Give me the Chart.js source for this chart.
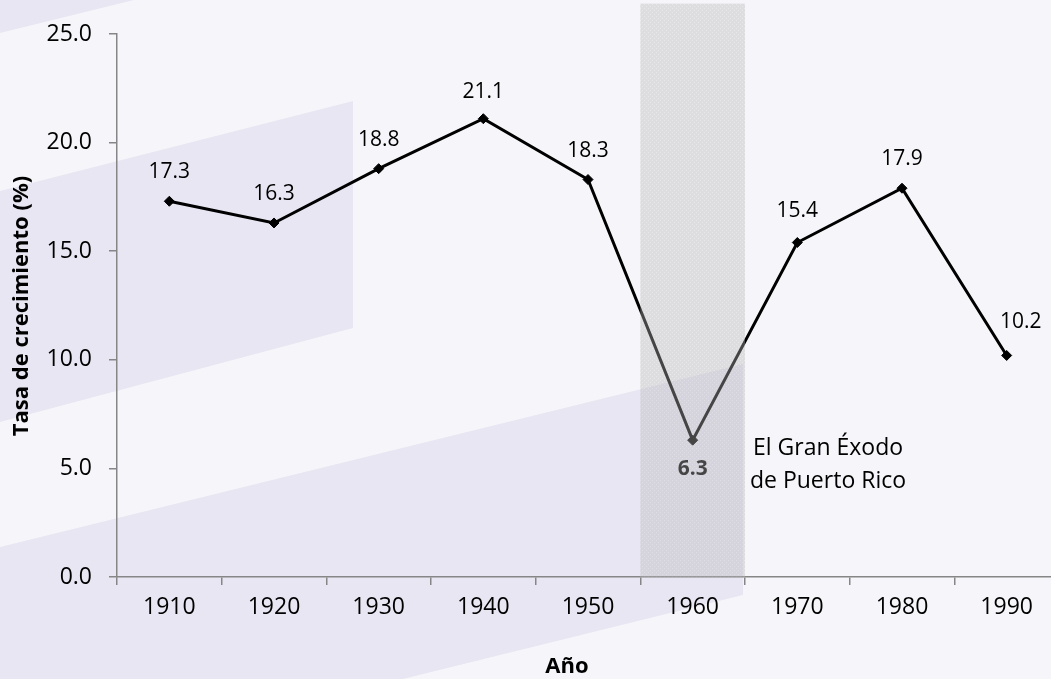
<!DOCTYPE html>
<html><head><meta charset="utf-8">
<script src="https://cdn.jsdelivr.net/npm/chart.js@4/dist/chart.umd.min.js"></script>
<style>
html,body{margin:0;padding:0;overflow:hidden;background:#f6f6fa;width:1051px;height:679px}
#c{position:absolute;left:0;top:0}
</style></head><body>
<canvas id="c" width="1065" height="679"></canvas>
<script>
// ---- data ----
const years = ['1910','1920','1930','1940','1950','1960','1970','1980','1990'];
const growthRate = [17.3, 16.3, 18.8, 21.1, 18.3, 6.3, 15.4, 17.9, 10.2];
const yTickValues = [0, 5, 10, 15, 20, 25];
const exodusYear = '1960';
const exodusTopValue = 26.4;
const exodusText = ['El Gran Éxodo', 'de Puerto Rico'];
const yTitle = 'Tasa de crecimiento (%)';
const xTitle = 'Año';

const FONT = '"Open Sans", "Liberation Sans", sans-serif';

const bgPlugin = {
  id: 'bg',
  beforeDraw(chart) {
    const ctx = chart.ctx, W = chart.width, H = chart.height;
    ctx.save();
    ctx.fillStyle = '#f6f6fa';
    ctx.fillRect(0, 0, W, H);
    ctx.fillStyle = '#e8e6f2';
    const polys = [
      [[0,0],[134,0],[0,33]],
      [[0,191],[353,101],[353,328],[0,422]],
      [[0,547],[743,364],[743,595],[403,679],[0,679]]
    ];
    polys.forEach(p => {
      ctx.beginPath();
      p.forEach((q,i) => i ? ctx.lineTo(q[0],q[1]) : ctx.moveTo(q[0],q[1]));
      ctx.closePath(); ctx.fill();
    });
    ctx.restore();
  }
};

const labelPlugin = {
  id: 'valueLabels',
  afterDatasetsDraw(chart, args, opts) {
    const meta = chart.getDatasetMeta(0);
    const ctx = chart.ctx;
    ctx.save();
    ctx.textAlign = 'center';
    ctx.textBaseline = 'middle';
    meta.data.forEach((pt, i) => {
      const o = opts.offsets[i];
      ctx.font = (opts.bold.includes(i) ? 'bold ' : '') + '21px ' + FONT;
      ctx.fillStyle = '#000';
      ctx.fillText(growthRate[i].toFixed(1), pt.x + o[0], pt.y + o[1]);
    });
    ctx.restore();
  }
};

function makePattern(ctx) {
  const c = document.createElement('canvas');
  c.width = 4; c.height = 4;
  const p = c.getContext('2d');
  p.fillStyle = 'rgba(182,182,182,0.38)';
  p.fillRect(0, 0, 4, 4);
  p.clearRect(0, 0, 1, 1); p.clearRect(2, 2, 1, 1);
  p.fillStyle = 'rgba(205,205,205,0.34)';
  p.fillRect(0, 0, 1, 1); p.fillRect(2, 2, 1, 1);
  return ctx.createPattern(c, 'repeat');
}

const bandPlugin = {
  id: 'exodusBand',
  afterDraw(chart) {
    const ctx = chart.ctx, xs = chart.scales.x, ys = chart.scales.y;
    const idx = years.indexOf(exodusYear);
    const cx = xs.getPixelForValue(idx);
    const half = (xs.getPixelForValue(1) - xs.getPixelForValue(0)) / 2;
    const top = ys.getPixelForValue(exodusTopValue);
    const bottom = ys.getPixelForValue(0);
    ctx.save();
    ctx.fillStyle = makePattern(ctx);
    ctx.fillRect(cx - half, top, half * 2, bottom - top);
    // annotation text
    ctx.fillStyle = '#000';
    ctx.font = '23px ' + FONT;
    ctx.textAlign = 'center';
    ctx.textBaseline = 'middle';
    const tx = cx + half + 83;
    const ty = ys.getPixelForValue(growthRate[idx]);
    ctx.fillText(exodusText[0], tx, ty + 8);
    ctx.fillText(exodusText[1], tx, ty + 41);
    // axis titles
    ctx.font = 'bold 22px ' + FONT;
    ctx.fillText(xTitle, 567, 667);
    ctx.translate(22, 306);
    ctx.rotate(-Math.PI / 2);
    ctx.fillText(yTitle, 0, 0);
    ctx.restore();
  }
};

new Chart(document.getElementById('c'), {
  type: 'line',
  data: {
    labels: years,
    datasets: [{
      data: growthRate,
      borderColor: '#000',
      backgroundColor: '#000',
      borderWidth: 3,
      pointStyle: 'rectRot',
      pointRadius: 5,
      pointBorderWidth: 1,
      tension: 0,
      fill: false
    }]
  },
  options: {
    responsive: false,
    animation: false,
    layout: { padding: { top: 34, left: 0, right: 0, bottom: 0 } },
    plugins: {
      legend: { display: false },
      tooltip: { enabled: false },
      valueLabels: {
        offsets: [[0,-29],[0,-29],[0,-29],[0,-27],[0,-29],[0,29],[0,-31],[0,-29],[14,-33]],
        bold: [5]
      }
    },
    scales: {
      x: {
        type: 'category',
        offset: true,
        afterFit: s => { s.height = 102; },
        grid: { offset: true, drawOnChartArea: false, drawTicks: true, tickLength: 8, color: '#868686', lineWidth: 1.5 },
        border: { color: '#868686', width: 1.5 },
        ticks: { color: '#000', font: { family: FONT, size: 23 }, padding: 9, maxRotation: 0 }
      },
      y: {
        min: 0, max: 25,
        afterFit: s => { s.width = 117; },
        afterBuildTicks: s => { s.ticks = yTickValues.map(v => ({ value: v })); },
        grid: { drawOnChartArea: false, drawTicks: true, tickLength: 8, color: '#868686', lineWidth: 1.5 },
        border: { color: '#868686', width: 1.5 },
        ticks: { color: '#000', font: { family: FONT, size: 23 }, padding: 17, callback: v => v.toFixed(1) }
      }
    }
  },
  plugins: [bgPlugin, labelPlugin, bandPlugin]
});
</script>
</body></html>
